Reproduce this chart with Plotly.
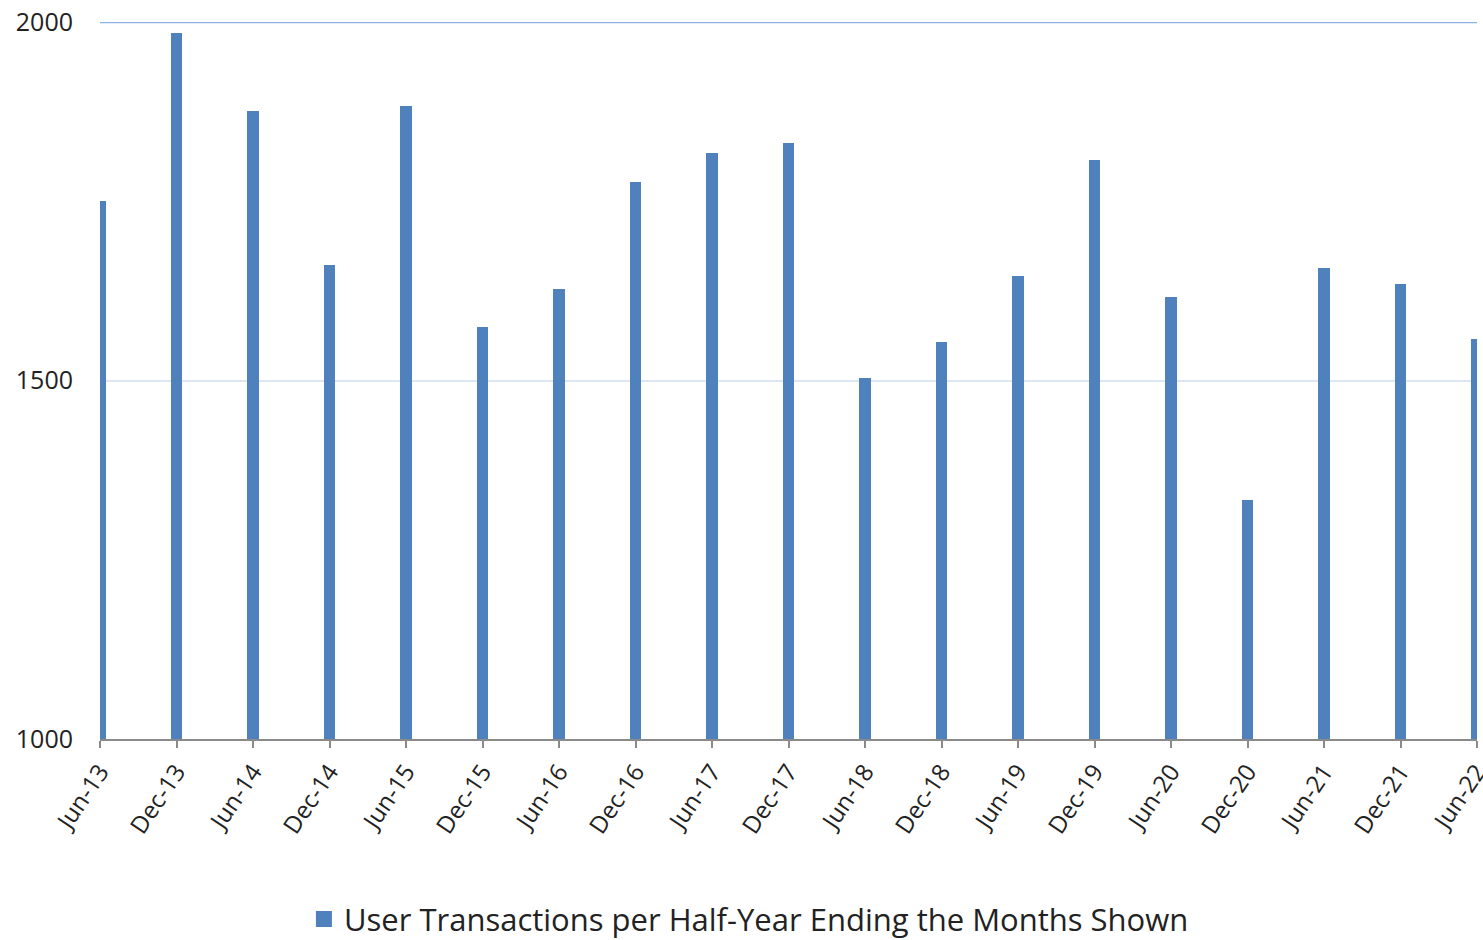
import plotly.graph_objects as go

# Half-year periods and user transaction counts
periods = ["Jun-13", "Dec-13", "Jun-14", "Dec-14", "Jun-15", "Dec-15", "Jun-16",
           "Dec-16", "Jun-17", "Dec-17", "Jun-18", "Dec-18", "Jun-19", "Dec-19",
           "Jun-20", "Dec-20", "Jun-21", "Dec-21", "Jun-22"]
transactions = [1750, 1984, 1876, 1661, 1883, 1575, 1627, 1777, 1817, 1831,
                1503, 1554, 1646, 1808, 1616, 1333, 1657, 1635, 1558]
y_ticks = [1000, 1500, 2000]
series_name = "User Transactions per Half-Year Ending the Months Shown"

font_family = "'Open Sans', Lato, sans-serif"
bar_color = "#4f81bd"

fig = go.Figure()
fig.add_trace(go.Bar(
    x=periods,
    y=transactions,
    name=series_name,
    marker=dict(color=bar_color, line=dict(width=0)),
    width=0.145,
    showlegend=False,
    legendgroup="tx",
))
# Legend entry with a larger square swatch for the bar series
fig.add_trace(go.Scatter(
    x=[None], y=[None],
    mode="markers",
    name=series_name,
    marker=dict(symbol="square", size=19, color=bar_color),
    legendgroup="tx",
    showlegend=True,
    hoverinfo="skip",
))

fig.update_layout(
    width=1483,
    height=940,
    margin=dict(l=100, r=6, t=22, b=201, autoexpand=False),
    plot_bgcolor="white",
    paper_bgcolor="white",
    font=dict(family=font_family, color="#222222"),
    showlegend=True,
    legend=dict(
        orientation="h",
        x=0.505, xanchor="center", xref="container",
        y=0.022, yanchor="middle", yref="container",
        font=dict(size=31, family=font_family, color="#222222"),
        itemsizing="trace",
        itemwidth=30,
    ),
    bargap=0,
)

fig.update_xaxes(
    type="category",
    range=[0, len(periods) - 1],
    automargin=False,
    showgrid=False,
    showline=True,
    linecolor="#8a8a8a",
    linewidth=2,
    ticks="outside",
    ticklen=7,
    tickwidth=2,
    tickcolor="#8a8a8a",
    tickangle=-56,
    tickfont=dict(size=24, family=font_family, color="#222222"),
    zeroline=False,
)

fig.update_yaxes(
    range=[1000, 2000],
    automargin=False,
    tickvals=y_ticks,
    ticktext=[str(v) for v in y_ticks],
    showgrid=True,
    gridcolor="#dde7f3",
    gridwidth=2,
    showline=False,
    zeroline=False,
    ticks="",
    ticklabelstandoff=26,
    tickfont=dict(size=25, family=font_family, color="#222222"),
)

# Stronger top border line of the plot area
fig.add_shape(type="line", xref="paper", yref="y", x0=0, x1=1, y0=2000, y1=2000,
              line=dict(color="#8db3e2", width=2.5), layer="above")

fig.write_html("out.html")
